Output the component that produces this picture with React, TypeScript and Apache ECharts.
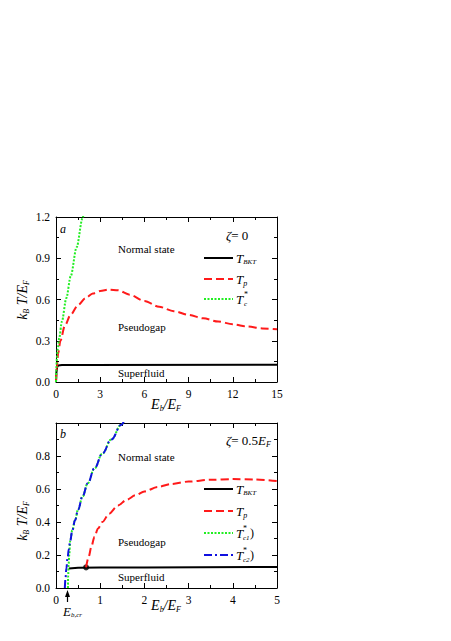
import React, { useEffect, useRef } from "react";
import * as echarts from "echarts";

const FONT = '"Liberation Serif", "Times New Roman", serif';

// ---- Panel (a): zeta = 0 ----
const xTicksA = { min: 0, max: 15, interval: 3 };
const yTicksA = { min: 0, max: 1.2, interval: 0.3 };
const tBktA: [number, number][] = [
  [0, 0], [0.03, 0.07], [0.08, 0.11], [0.15, 0.12], [0.4, 0.123], [2, 0.124], [15, 0.125],
];
const tpA: [number, number][] = [
  [0, 0], [0.05, 0.1], [0.15, 0.21], [0.3, 0.3], [0.6, 0.41], [1, 0.49], [1.5, 0.56],
  [2, 0.61], [2.5, 0.643], [3, 0.662], [3.6, 0.672], [4.2, 0.667], [5, 0.635], [6, 0.59],
  [7, 0.547], [8, 0.515], [9, 0.488], [10, 0.463], [11, 0.44], [12, 0.42], [13, 0.403],
  [14, 0.39], [15, 0.383],
];
const tcStarA: [number, number][] = [
  [0, 0], [0.02, 0.09], [0.06, 0.17], [0.12, 0.24], [0.22, 0.32], [0.4, 0.44],
  [0.7, 0.61], [1.0, 0.77], [1.4, 0.98], [1.8, 1.19], [1.9, 1.24],
];

// ---- Panel (b): zeta = 0.5 E_F ----
const xTicksB = { min: 0, max: 5, interval: 1 };
const yTicksB = { min: 0, max: 1.0, interval: 0.2 };
const tBktB: [number, number][] = [
  [0.29, 0.118], [0.5, 0.122], [1, 0.124], [2, 0.125], [5, 0.128],
];
const tpB: [number, number][] = [
  [0.68, 0.125], [0.74, 0.19], [0.8, 0.25], [0.87, 0.31], [0.95, 0.36], [1.05, 0.4],
  [1.2, 0.45], [1.4, 0.5], [1.6, 0.535], [1.8, 0.562], [2, 0.585], [2.3, 0.612],
  [2.6, 0.63], [3, 0.645], [3.5, 0.656], [4, 0.66], [4.5, 0.658], [5, 0.648],
];
const tc1B: [number, number][] = [
  [0.27, 0], [0.275, 0.07], [0.285, 0.14], [0.3, 0.2], [0.32, 0.285], [0.37, 0.35],
  [0.43, 0.41], [0.5, 0.475], [0.6, 0.555], [0.72, 0.635], [0.87, 0.725], [1.05, 0.815],
  [1.25, 0.9], [1.48, 0.99], [1.55, 1.02],
];
const tc2B: [number, number][] = [
  [0.2, 0], [0.215, 0.06], [0.235, 0.12], [0.26, 0.18], [0.29, 0.235], [0.32, 0.285],
  [0.37, 0.35], [0.43, 0.41], [0.5, 0.475], [0.6, 0.555], [0.72, 0.635], [0.87, 0.725],
  [1.05, 0.815], [1.25, 0.9], [1.48, 0.99], [1.55, 1.02],
];
const tpOnsetB: [number, number][] = [[0.68, 0.125]];

const BLACK = "#000000";
const RED = "#ff1a1a";
const GREEN = "#22ee22";
const BLUE = "#1010e0";

// Rich text: main tokens aligned to top of line, subscript tokens to bottom.
function mkRich(size: number, sub: number, shift: number) {
  const L = size / 2 + shift + sub / 2;
  return {
    L,
    rich: {
      i: { fontFamily: FONT, fontStyle: "italic", fontSize: size, lineHeight: L, verticalAlign: "top", fill: "#000" },
      r: { fontFamily: FONT, fontStyle: "normal", fontSize: size, lineHeight: L, verticalAlign: "top", fill: "#000" },
      s: { fontFamily: FONT, fontStyle: "italic", fontSize: sub, lineHeight: L, verticalAlign: "bottom", fill: "#000" },
    },
  };
}

function txt(x: number, y: number, text: string, size = 11, italic = false, align = "left") {
  return {
    type: "text",
    x,
    y,
    silent: true,
    style: {
      text,
      fill: "#000",
      fontFamily: FONT,
      fontSize: size,
      fontStyle: italic ? "italic" : "normal",
      align,
      verticalAlign: "middle",
    },
  };
}

// y = desired centre of the main-size glyphs
function richTxt(x: number, y: number, text: string, size: number, sub: number, shift: number, align = "left", rotation = 0) {
  const { L, rich } = mkRich(size, sub, shift);
  const off = (L - size) / 2;
  let px = x;
  let py = y + off;
  if (rotation !== 0) {
    px = x + off;
    py = y;
  }
  return {
    type: "text",
    x: px,
    y: py,
    rotation,
    silent: true,
    style: {
      text,
      rich,
      fill: "#000",
      fontFamily: FONT,
      fontSize: size,
      align,
      verticalAlign: "middle",
    },
  };
}

function legLine(y: number, color: string, dash: number[] | null) {
  return {
    type: "line",
    silent: true,
    shape: { x1: 204, y1: y, x2: 233, y2: y },
    style: { stroke: color, lineWidth: 2, lineDash: dash || undefined },
  };
}

function axisBase(extra: any) {
  return {
    type: "value",
    axisLine: { show: true, onZero: false, lineStyle: { color: "#000", width: 1 } },
    axisTick: { show: true, inside: true, length: 5, lineStyle: { color: "#000", width: 1 } },
    minorTick: { show: true, splitNumber: 2, length: 3, lineStyle: { color: "#000", width: 1 } },
    splitLine: { show: false },
    minorSplitLine: { show: false },
    axisLabel: { color: "#000", fontFamily: FONT, fontSize: 11.5, margin: 6 },
    ...extra,
  };
}

const DASH_RED = [8, 4];
const DOT_GREEN = [2, 1.5];
const DASHDOT_BLUE = [8, 3, 2, 3];

export default function App() {
  const ref = useRef<HTMLDivElement>(null);
  useEffect(() => {
    if (!ref.current) return;
    const chart = echarts.init(ref.current, null, { renderer: "svg" });
    const lineSeries = (name: string, data: [number, number][], color: string, dash: any, xi: number, yi: number, smooth: number | boolean = 0.3) => ({
      name,
      type: "line",
      data,
      xAxisIndex: xi,
      yAxisIndex: yi,
      showSymbol: false,
      symbol: "none",
      smooth,
      smoothMonotone: "x",
      clip: true,
      lineStyle: { color, width: 2, type: dash },
      silent: true,
    });

    const fmt1 = (v: number) => v.toFixed(1);
    const option: any = {
      animation: false,
      backgroundColor: "#ffffff",
      grid: [
        { left: 56, top: 217, width: 221, height: 165 },
        { left: 56, top: 423, width: 221, height: 165 },
      ],
      xAxis: [
        axisBase({ gridIndex: 0, position: "bottom", ...xTicksA }),
        axisBase({ gridIndex: 0, position: "top", ...xTicksA, axisLabel: { show: false } }),
        axisBase({ gridIndex: 1, position: "bottom", ...xTicksB }),
        axisBase({ gridIndex: 1, position: "top", ...xTicksB, axisLabel: { show: false } }),
      ],
      yAxis: [
        axisBase({ gridIndex: 0, position: "left", ...yTicksA, axisLabel: { color: "#000", fontFamily: FONT, fontSize: 11.5, margin: 6, formatter: fmt1 } }),
        axisBase({ gridIndex: 0, position: "right", ...yTicksA, axisLabel: { show: false } }),
        axisBase({
          gridIndex: 1, position: "left", ...yTicksB,
          axisLabel: { color: "#000", fontFamily: FONT, fontSize: 11.5, margin: 6, formatter: (v: number) => (v >= 0.999 ? "" : fmt1(v)) },
        }),
        axisBase({ gridIndex: 1, position: "right", ...yTicksB, axisLabel: { show: false } }),
      ],
      series: [
        lineSeries("T_BKT a", tBktA, BLACK, "solid", 0, 0, false),
        lineSeries("T_p a", tpA, RED, DASH_RED, 0, 0),
        lineSeries("T_c* a", tcStarA, GREEN, DOT_GREEN, 0, 0),
        lineSeries("T_BKT b", tBktB, BLACK, "solid", 2, 2, false),
        lineSeries("T_p b", tpB, RED, DASH_RED, 2, 2),
        lineSeries("T_c1* b", tc1B, GREEN, DOT_GREEN, 2, 2, 0.4),
        lineSeries("T_c2* b", tc2B, BLUE, DASHDOT_BLUE, 2, 2, 0.4),
        {
          name: "onset",
          type: "scatter",
          data: tpOnsetB,
          xAxisIndex: 2,
          yAxisIndex: 2,
          symbol: "circle",
          symbolSize: 6,
          itemStyle: { color: "#000" },
          silent: true,
        },
      ],
      graphic: [
        // panel a texts
        txt(60, 229, "a", 12, true),
        txt(118, 249, "Normal state", 11),
        txt(118, 327, "Pseudogap", 11),
        txt(118, 373, "Superfluid", 11),
        richTxt(226, 235, "{i|ζ}{r|= 0}", 13, 8, 4),
        legLine(258, BLACK, null),
        legLine(279, RED, DASH_RED),
        legLine(299, GREEN, DOT_GREEN),
        richTxt(236, 258, "{i|T}{s|BKT}", 13, 7, 4),
        richTxt(236, 279, "{i|T}{s|p}", 13, 8, 4),
        txt(236, 299, "T", 13, true),
        txt(244, 294, "*", 8, false),
        txt(244, 304, "c", 7, true),
        richTxt(22, 300, "{i|k}{s|B}{i| T/E}{s|F}", 14, 8, 4, "center", Math.PI / 2),
        richTxt(166, 404, "{i|E}{s|b}{i|/E}{s|F}", 14, 8, 4, "center"),
        // panel b texts
        txt(60, 434, "b", 12, true),
        txt(118, 457, "Normal state", 11),
        txt(118, 542, "Pseudogap", 11),
        txt(118, 577, "Superfluid", 11),
        richTxt(226, 440, "{i|ζ}{r|= 0.5}{i|E}{s|F}", 13, 8, 4),
        legLine(489, BLACK, null),
        legLine(511, RED, DASH_RED),
        legLine(533, GREEN, DOT_GREEN),
        legLine(555, BLUE, DASHDOT_BLUE),
        richTxt(236, 489, "{i|T}{s|BKT}", 13, 7, 4),
        richTxt(236, 511, "{i|T}{s|p}", 13, 8, 4),
        txt(236, 533, "T", 13, true),
        txt(243, 528, "*", 8, false),
        txt(243, 538, "c1", 7, true),
        txt(250, 533, ")", 12, false),
        txt(236, 555, "T", 13, true),
        txt(243, 550, "*", 8, false),
        txt(243, 560, "c2", 7, true),
        txt(250, 555, ")", 12, false),
        richTxt(22, 521, "{i|k}{s|B}{i| T/E}{s|F}", 14, 8, 4, "center", Math.PI / 2),
        richTxt(166, 605, "{i|E}{s|b}{i|/E}{s|F}", 14, 8, 4, "center"),
        // E_b,cr arrow
        {
          type: "line",
          silent: true,
          shape: { x1: 67.5, y1: 595, x2: 67.5, y2: 602 },
          style: { stroke: "#000", lineWidth: 1.2 },
        },
        {
          type: "polygon",
          silent: true,
          shape: { points: [[67.5, 590], [65, 597], [70, 597]] },
          style: { fill: "#000" },
        },
        richTxt(63, 611, "{i|E}{s|b,cr}", 13, 7, 4),
      ],
    };
    chart.setOption(option);
    return () => chart.dispose();
  }, []);
  return (
    <div
      ref={ref}
      style={{ position: "fixed", left: 0, top: 0, width: 451, height: 641, background: "#fff" }}
    />
  );
}
